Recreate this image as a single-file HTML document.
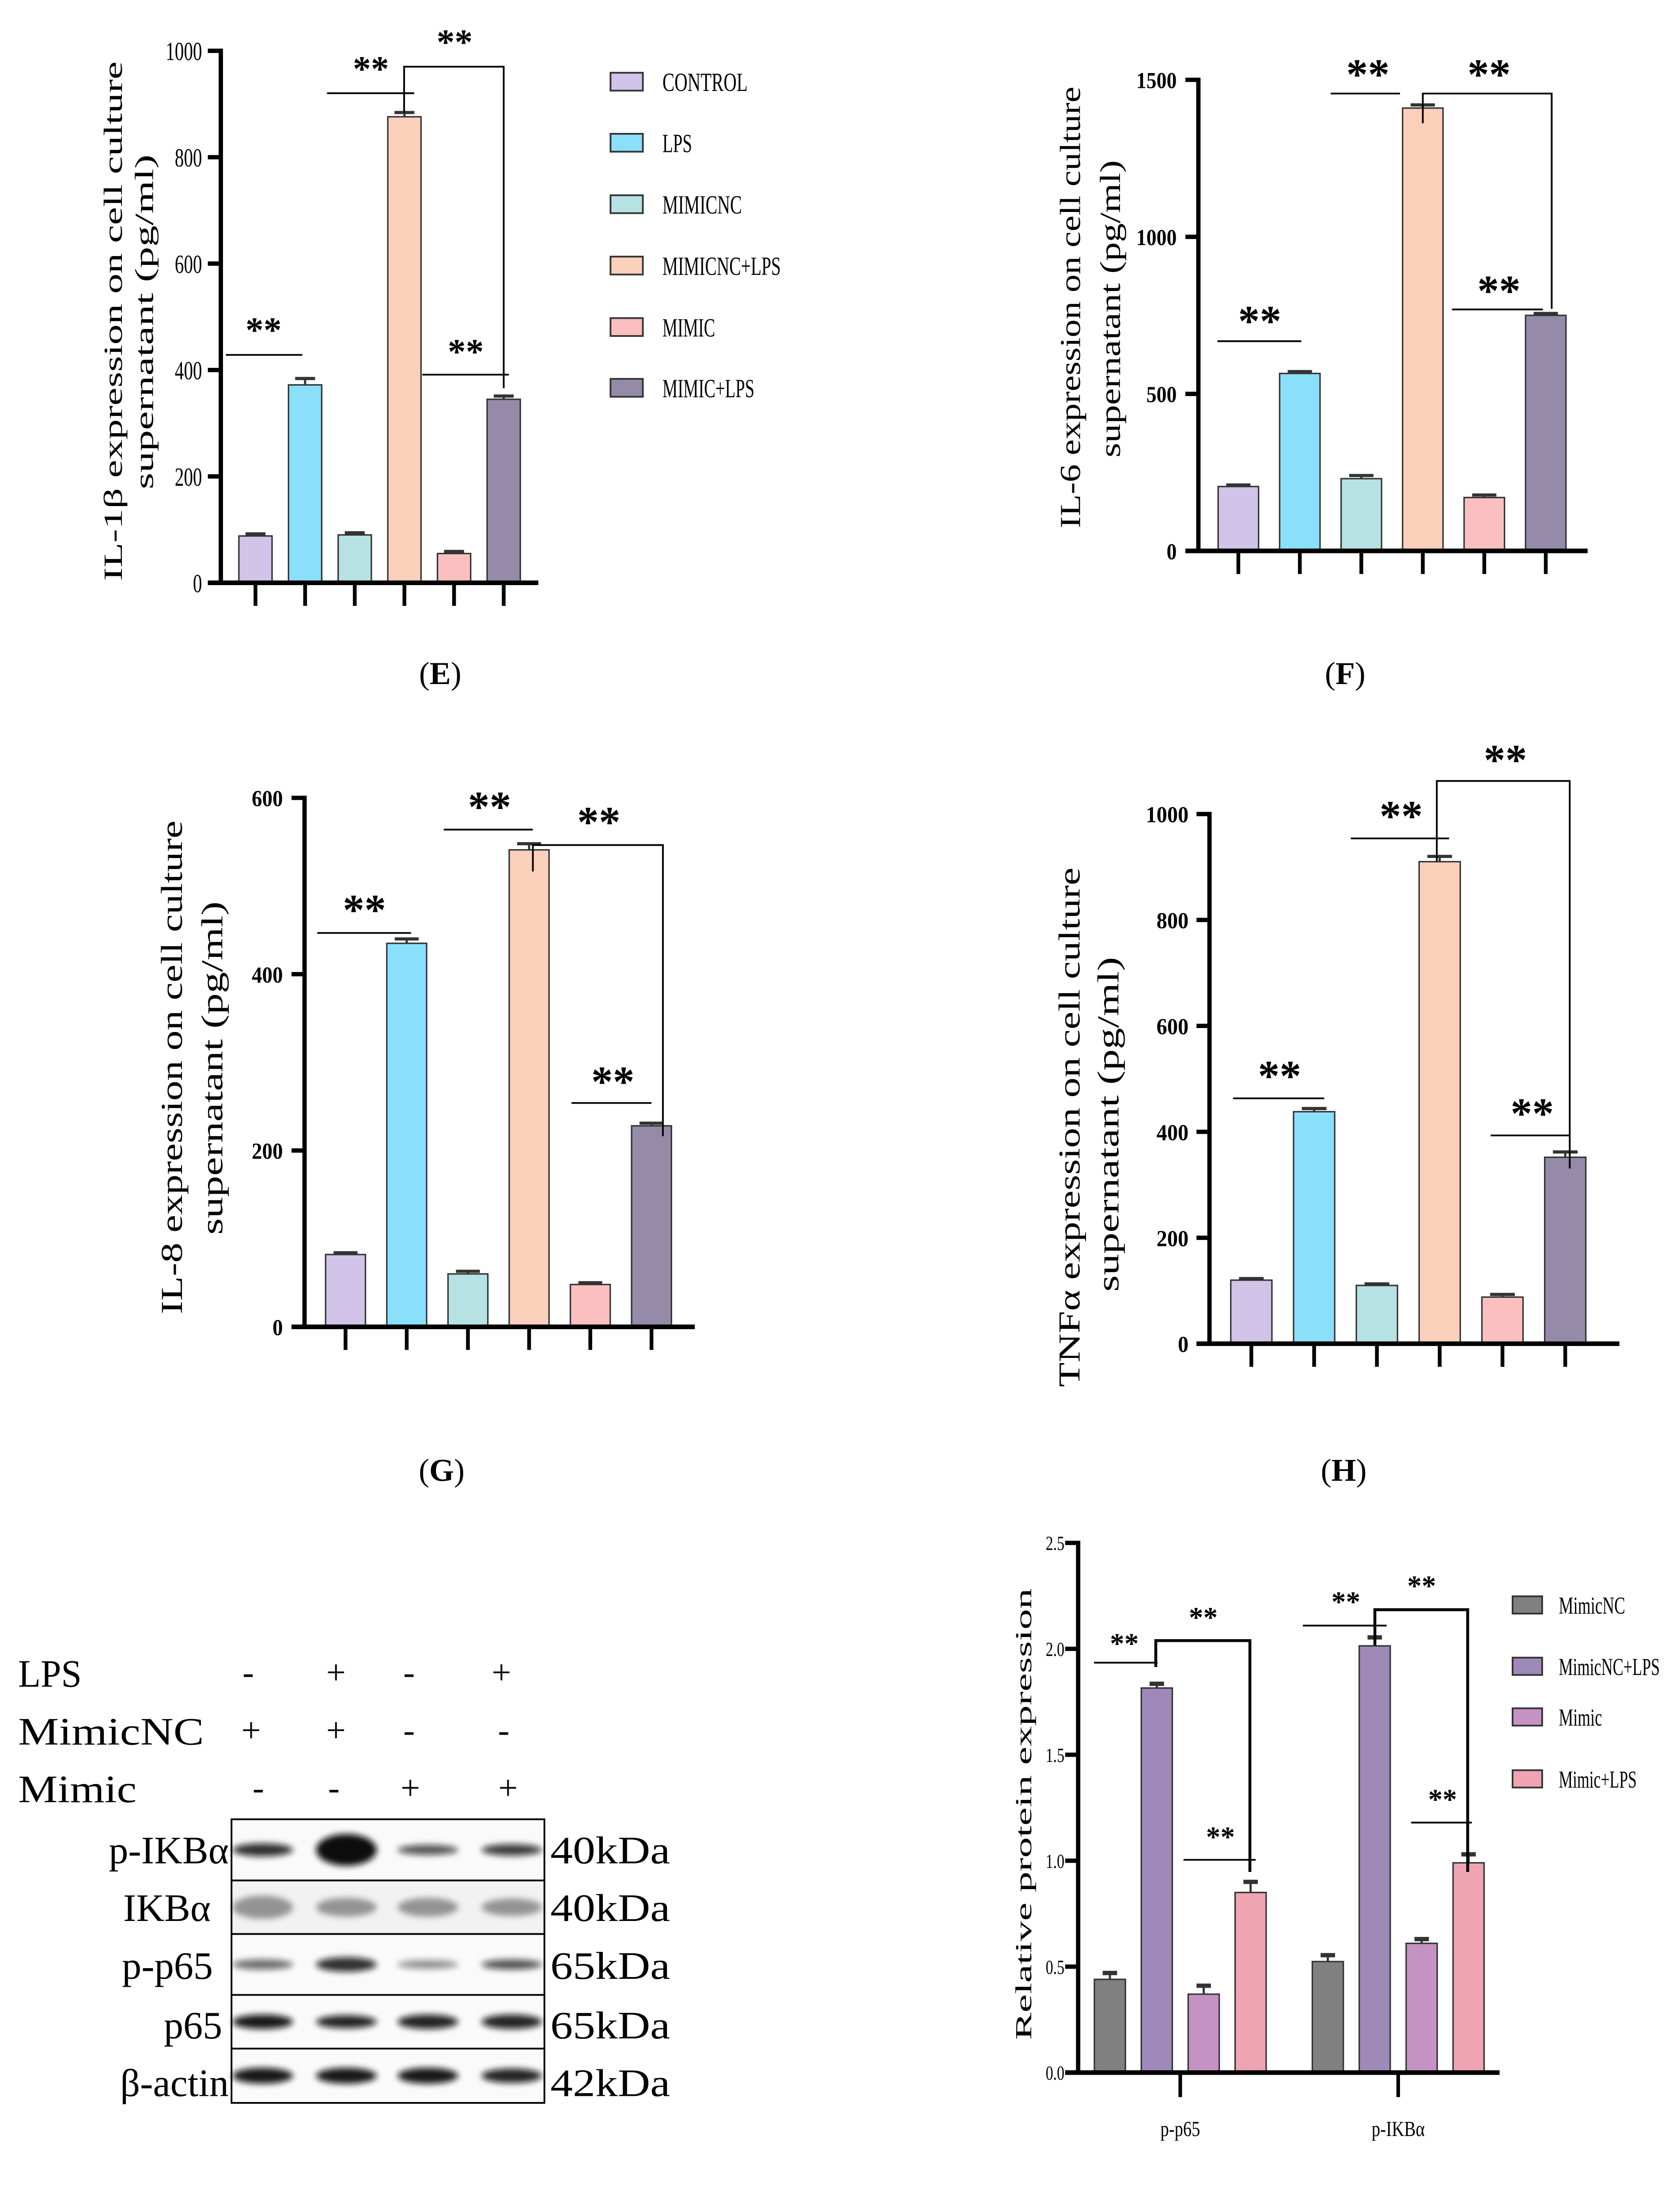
<!DOCTYPE html>
<html><head><meta charset="utf-8">
<style>
html,body{margin:0;padding:0;background:#fff;width:3804px;height:5079px;overflow:hidden;position:relative;}
svg{display:block;position:absolute;left:0;top:0;}
text{font-family:"Liberation Serif",serif;fill:#000;}
</style></head>
<body>
<svg id="fig" xmlns="http://www.w3.org/2000/svg" width="3804" height="5079" viewBox="0 0 1164 1554" preserveAspectRatio="none" overflow="hidden">
<defs><filter id="blur" x="-30%" y="-80%" width="160%" height="260%"><feGaussianBlur stdDeviation="2.2"/></filter></defs>
<g id="root"></g>
</svg>
<script>
// ---- Panel E: IL-1β ----
const categoriesE = ["CONTROL","LPS","MIMICNC","MIMICNC+LPS","MIMIC","MIMIC+LPS"];
const valuesE = [88, 372, 90, 876, 55, 345];
const errorsE = [4, 12, 4, 8, 4, 6];
const ticksE = [0, 200, 400, 600, 800, 1000];
// ---- Panel F: IL-6 ----
const valuesF = [205, 565, 230, 1410, 170, 750];
const errorsF = [5, 6, 10, 10, 8, 6];
const ticksF = [0, 500, 1000, 1500];
// ---- Panel G: IL-8 ----
const valuesG = [82, 435, 60, 541, 48, 228];
const errorsG = [2, 5, 3, 7, 2, 3];
const ticksG = [0, 200, 400, 600];
// ---- Panel H: TNFα ----
const valuesH = [120, 438, 110, 910, 88, 352];
const errorsH = [3, 6, 3, 10, 5, 10];
const ticksH = [0, 200, 400, 600, 800, 1000];
// ---- Panel J: protein ----
const groupsJ = ["p-p65", "p-IKBα"];
const seriesJ = ["MimicNC", "MimicNC+LPS", "Mimic", "Mimic+LPS"];
const valuesJ_pp65 = [0.44, 1.815, 0.37, 0.85];
const valuesJ_pIKB = [0.524, 2.014, 0.61, 0.99];
const errorsJ_pp65 = [0.03, 0.02, 0.04, 0.05];
const errorsJ_pIKB = [0.03, 0.04, 0.02, 0.04];
const ticksJ = ["0.0", "0.5", "1.0", "1.5", "2.0", "2.5"];

const colorsE = ["#d1c4e8","#8ae0fb","#b6e2e3","#fbd0bb","#fbbfbf","#958aa8"];
const colorsJ = ["#808080","#9e89b8","#c593c3","#eea4b1"];

const NS = "http://www.w3.org/2000/svg";
const root = document.getElementById("root");
function el(tag, attrs, parent, txt){
  const e = document.createElementNS(NS, tag);
  for (const k in attrs) e.setAttribute(k, attrs[k]);
  if (txt !== undefined) e.textContent = txt;
  (parent || root).appendChild(e);
  return e;
}
function fit(t, len){ t.setAttribute("textLength", len); t.setAttribute("lengthAdjust", "spacingAndGlyphs"); return t; }

function barChart(name, cfg, values, errors, ticks){
  const g = el("g", {});
  
  
  const y = v => cfg.y0 - (v / cfg.ymax) * (cfg.y0 - cfg.yTop);
  values.forEach((v, i) => {
    const cx = cfg.x1 + i * cfg.step;
    const r = el("rect", {x: cx - cfg.bw/2, y: y(v), width: cfg.bw, height: cfg.y0 - y(v), fill: cfg.colors[i], stroke: "#333", "stroke-width": 1}, g);
    
    
    const ey = y(v + errors[i]);
    el("line", {x1: cx, x2: cx, y1: y(v), y2: ey, stroke: "#333", "stroke-width": 1.5}, g);
    el("line", {x1: cx - cfg.bw*0.3, x2: cx + cfg.bw*0.3, y1: ey, y2: ey, stroke: "#333", "stroke-width": 2.2}, g);
    el("line", {x1: cx, x2: cx, y1: cfg.y0, y2: cfg.y0 + 16, stroke: "#000", "stroke-width": 2.6}, g);
  });
  const ya = el("line", {x1: cfg.x0, x2: cfg.x0, y1: cfg.yTop - 1.5, y2: cfg.y0 + 1.5, stroke: "#000", "stroke-width": 3}, g);
   
  const xa = el("line", {x1: cfg.x0 - 9, x2: cfg.xEnd, y1: cfg.y0, y2: cfg.y0, stroke: "#000", "stroke-width": 3.2}, g);
   
  ticks.forEach(t => {
    el("line", {x1: cfg.x0 - 9, x2: cfg.x0, y1: y(t), y2: y(t), stroke: "#000", "stroke-width": 3}, g);
    const s = String(t);
    const tl = el("text", {x: cfg.x0 - cfg.tgap, y: y(t) + cfg.tfs*0.36, "text-anchor": "end", "font-size": cfg.tfs, "font-weight": cfg.bold ? "bold" : "normal"}, g, s);
    fit(tl, s.length * cfg.tcw);
     
  });
  const t1 = el("text", {transform: `translate(${cfg.lx1},${cfg.ly}) rotate(-90)`, "text-anchor": "middle", "font-size": cfg.lfs}, g, cfg.t1);
  fit(t1, cfg.len1);
   
  const t2 = el("text", {transform: `translate(${cfg.lx2},${cfg.ly2 || cfg.ly}) rotate(-90)`, "text-anchor": "middle", "font-size": cfg.lfs}, g, cfg.t2);
  fit(t2, cfg.len2);
   
  return {g, y};
}
function stars(g, cx, cy, fs){
  const s = el("text", {x: cx, y: cy + fs*0.52, "text-anchor": "middle", "font-size": fs, "font-weight": "bold", "font-family": "Liberation Sans"}, g, "**");
   
}
function sigLine(g, x1, x2, yy, sx, sy, fs, w){
  el("line", {x1, x2, y1: yy, y2: yy, stroke: "#000", "stroke-width": w || 1.2}, g);
  stars(g, sx, sy, fs);
}
function bracket(g, xa, xb, yy, ya2, yb2, sx, sy, fs, w){
  el("polyline", {points: `${xa},${ya2} ${xa},${yy} ${xb},${yy} ${xb},${yb2}`, fill: "none", stroke: "#000", "stroke-width": w || 1.2}, g);
  stars(g, sx, sy, fs);
}
function panelLabel(x, y, letter){
  const t = el("text", {x, y, "text-anchor": "middle", "font-size": 22}, root);
  
  
  el("tspan", {}, t, "(");
  el("tspan", {"font-weight": "bold"}, t, letter);
  el("tspan", {}, t, ")");
}

// Panel E
const E = barChart("chart-il1b", {x0:153, y0:403.8, yTop:35.2, ymax:1000, x1:177, step:34.4, bw:23, xEnd:373, colors: colorsE,
  tgap:13, tfs:18, tcw:6.3,
  lx1:84.5, lx2:106, ly:222.5, ly2:223, lfs:18, len1:360, len2:232, t1:"IL-1β expression on cell culture", t2:"supernatant (pg/ml)"}, valuesE, errorsE, ticksE);
sigLine(E.g, 156.5, 209.5, 245.9, 182.6, 224, 25);
sigLine(E.g, 226.6, 287, 64.6, 257, 43, 25);
bracket(E.g, 280, 349, 46.2, 78, 269, 315, 24.5, 25);
sigLine(E.g, 292.6, 352.6, 259.6, 322.7, 239, 25);
categoriesE.forEach((c, i) => {
  const cy = [56.6, 98.9, 141.5, 184, 226.6, 268.7][i];
  const lw = [59, 20.5, 55, 82, 36.5, 63.7][i];
  const r = el("rect", {x: 423, y: cy - 6.2, width: 22.4, height: 12.4, fill: colorsE[i], stroke: "#333", "stroke-width": 1.2});
   
  const t = el("text", {x: 459, y: cy + 6.5, "font-size": 18}, root, c);
  fit(t, lw);
   
});
panelLabel(305, 474, "E");

// Panel F
const F = barChart("chart-il6", {x0:830.3, y0:381.7, yTop:55.3, ymax:1500, x1:858, step:42.6, bw:28, xEnd:1100, colors: colorsE, bold:true,
  tgap:15, tfs:16, tcw:7,
  lx1:748.3, lx2:776, ly:213, ly2:214, lfs:20, len1:306, len2:206, t1:"IL-6 expression on cell culture", t2:"supernatant (pg/ml)"}, valuesF, errorsF, ticksF);
sigLine(F.g, 843.5, 901.6, 236.4, 872.8, 217, 30);
sigLine(F.g, 922, 970, 64.8, 947.8, 46, 30);
bracket(F.g, 985.8, 1075.1, 64.8, 85.4, 214, 1031.7, 46, 30);
sigLine(F.g, 1006, 1069, 214.4, 1038.6, 196, 30);
panelLabel(932, 474, "F");

// Panel G
const G = barChart("chart-il8", {x0:211, y0:919.3, yTop:552.8, ymax:600, x1:239.4, step:42.4, bw:27.6, xEnd:481.4, colors: colorsE, bold:true,
  tgap:15, tfs:16, tcw:7.2,
  lx1:126, lx2:154, ly:739.5, ly2:740, lfs:21, len1:342, len2:231, t1:"IL-8 expression on cell culture", t2:"supernatant (pg/ml)"}, valuesG, errorsG, ticksG);
sigLine(G.g, 219.8, 284.8, 646.4, 252.5, 625, 30);
sigLine(G.g, 307.5, 369.2, 574.8, 339.2, 553.5, 30);
bracket(G.g, 369.2, 459.3, 585.5, 603.8, 787.2, 414.9, 564, 30);
sigLine(G.g, 396, 451.4, 764.2, 424.6, 744, 30);
panelLabel(306, 1026, "G");

// Panel H
const H = barChart("chart-tnfa", {x0:838, y0:931, yTop:564, ymax:1000, x1:867, step:43.5, bw:28.5, xEnd:1122, colors: colorsE, bold:true,
  tgap:14.5, tfs:16, tcw:7.4,
  lx1:748, lx2:775, ly:781, ly2:779, lfs:21, len1:360, len2:232, t1:"TNFα expression on cell culture", t2:"supernatant (pg/ml)"}, valuesH, errorsH, ticksH);
sigLine(H.g, 854.3, 917.5, 761, 886.6, 740, 30);
sigLine(H.g, 935.9, 1004, 580.9, 970.8, 560, 30);
bracket(H.g, 995.5, 1087.6, 541.1, 596.7, 809.6, 1043, 521, 30);
sigLine(H.g, 1032.8, 1087.6, 786.7, 1061.6, 766, 30);
panelLabel(931, 1026, "H");

// Panel J
(function(){
  const g = el("g", {});
  
  
  const x0 = 747, y0 = 1436, yTop = 1069, ymax = 2.5;
  const y = v => y0 - (v / ymax) * (y0 - yTop);
  const groupStart = [769, 920], step = 32.5, bw = 21.5;
  const vals = [valuesJ_pp65, valuesJ_pIKB], errs = [errorsJ_pp65, errorsJ_pIKB];
  vals.forEach((arr, gi) => {
    arr.forEach((v, i) => {
      const cx = groupStart[gi] + i * step;
      const r = el("rect", {x: cx - bw/2, y: y(v), width: bw, height: y0 - y(v), fill: colorsJ[i], stroke: "#333", "stroke-width": 1}, g);
      
      
      const ey = y(v + errs[gi][i]);
      el("line", {x1: cx, x2: cx, y1: y(v), y2: ey, stroke: "#333", "stroke-width": 1.5}, g);
      el("line", {x1: cx - 5, x2: cx + 5, y1: ey, y2: ey, stroke: "#333", "stroke-width": 3}, g);
    });
    const gc = groupStart[gi] + 1.5 * step;
    el("line", {x1: gc, x2: gc, y1: y0, y2: y0 + 17, stroke: "#000", "stroke-width": 2.5}, g);
    const xl = el("text", {x: gc, y: 1480, "text-anchor": "middle", "font-size": 15}, g, groupsJ[gi]);
    fit(xl, gi === 0 ? 27.5 : 36.8);
     
  });
  const ya = el("line", {x1: x0, x2: x0, y1: yTop - 1.5, y2: y0 + 1.5, stroke: "#000", "stroke-width": 3}, g);
   
  const xa = el("line", {x1: x0 - 9, x2: 1039, y1: y0, y2: y0, stroke: "#000", "stroke-width": 3.2}, g);
   
  ticksJ.forEach(t => {
    const v = parseFloat(t);
    el("line", {x1: x0 - 9, x2: x0, y1: y(v), y2: y(v), stroke: "#000", "stroke-width": 3}, g);
    const tl = el("text", {x: x0 - 9.5, y: y(v) + 5, "text-anchor": "end", "font-size": 14}, g, t);
    fit(tl, 13);
     
  });
  const tt = el("text", {transform: "translate(714.5,1257) rotate(-90)", "text-anchor": "middle", "font-size": 16}, g, "Relative protein expression");
  fit(tt, 313);
   
  sigLine(g, 758, 802, 1152, 779, 1135, 20);
  bracket(g, 800.8, 866, 1136.7, 1155, 1297, 833.7, 1117, 20, 2);
  sigLine(g, 820, 870, 1288.6, 845.6, 1269, 20);
  sigLine(g, 902.7, 960.7, 1126.3, 932.5, 1106, 20);
  bracket(g, 952.6, 1016.9, 1115.3, 1140, 1297, 985, 1095, 20, 2);
  sigLine(g, 977.7, 1019.8, 1262.8, 999.5, 1243, 20);
  seriesJ.forEach((s, i) => {
    const cy = [1112, 1154.5, 1189.6, 1232.5][i];
    const lw = [46, 70, 30, 54][i];
    const r = el("rect", {x: 1048, y: cy - 6, width: 20.5, height: 12, fill: colorsJ[i], stroke: "#333", "stroke-width": 1.2});
     
    const t = el("text", {x: 1080, y: cy + 6, "font-size": 17}, root, s);
    fit(t, lw);
     
  });
})();
panelLabel(932, 1546, "J");

// Panel I: western blot
const blotRows = ["p-IKBα", "IKBα", "p-p65", "p65", "β-actin"];
const blotKDa = ["40kDa", "40kDa", "65kDa", "65kDa", "42kDa"];
const treatRows = ["LPS", "MimicNC", "Mimic"];
const treatSigns = [["-","+","-","+"],["+","+","-","-"],["-","-","+","+"]];
const bandIntensity = [[0.85,1,0.7,0.8],[0.6,0.6,0.6,0.6],[0.6,0.85,0.45,0.7],[0.95,0.9,0.9,0.9],[0.95,0.95,0.95,0.9]];
const bandHeight = [[7,20,5,6],[14,11,11,10],[5,8,4,5],[8,7,8,8],[9,9,9,8]];
(function(){
  const g = el("g", {});
  
  
  const signX = [[172,232.8,283.4,347.4],[174,232.8,283.4,349],[179,231.3,284.3,352]];
  const labelW = [44, 128.7, 82];
  treatRows.forEach((r, i) => {
    const yy = 1168.7 + i * 40;
    const t = el("text", {x: 12.6, y: yy, "font-size": 27}, g, r);
    fit(t, labelW[i]);
     
    treatSigns[i].forEach((s, j) => {
      const st = el("text", {x: signX[i][j], y: yy - 2, "text-anchor": "middle", "font-size": 24}, g, s);
       
    });
  });
  const rowY = [1260.5, 1302.9, 1340, 1382.2, 1419.4, 1457];
  const baseY = [1291, 1331, 1371, 1412.3, 1452.3];
  const rightX = [158.5, 146, 147.5, 154, 158.5];
  const lanes = [182, 240, 296.5, 354.6];
  blotRows.forEach((name, i) => {
    const top = rowY[i], bot = rowY[i+1], mid = (top + bot) / 2;
    const bg = el("rect", {x: 160.4, y: top, width: 216.8, height: bot - top, fill: i === 1 ? "#f2f2f2" : "#fafafa"}, g);
     
    lanes.forEach((lx, j) => {
      const col = i === 1 ? "#555" : "#111";
      const b = el("ellipse", {cx: lx, cy: mid, rx: 21, ry: bandHeight[i][j] / 2 + 1, fill: col, opacity: bandIntensity[i][j], filter: "url(#blur)"}, g);
       
    });
    el("rect", {x: 160.4, y: top, width: 216.8, height: bot - top, fill: "none", stroke: "#000", "stroke-width": 1.2}, g);
    const lt = el("text", {x: rightX[i], y: baseY[i], "text-anchor": "end", "font-size": 27}, g, name);
     
    const kt = el("text", {x: 381.3, y: baseY[i], "font-size": 27}, g, blotKDa[i]);
    fit(kt, 83);
     
  });
})();
panelLabel(306, 1546, "I");
</script>
</body></html>
